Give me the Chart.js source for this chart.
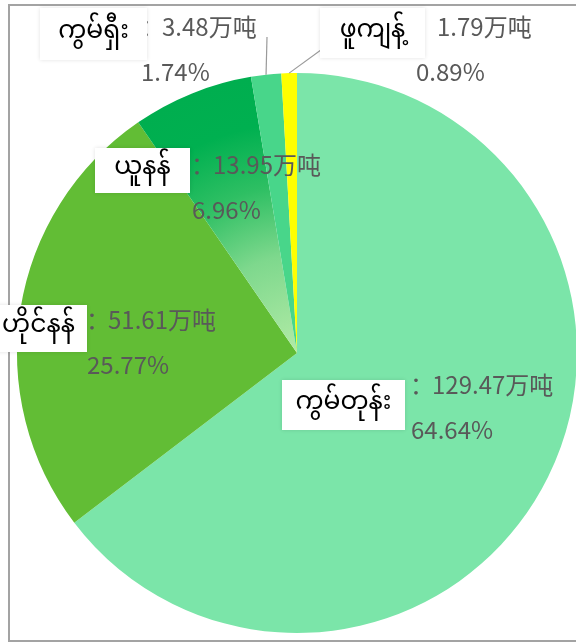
<!DOCTYPE html>
<html>
<head>
<meta charset="utf-8">
<script src="https://cdn.jsdelivr.net/npm/chart.js@4"></script>
<style>
html,body{margin:0;padding:0;background:#fff;overflow:hidden;}
#wrap{position:absolute;left:0;top:0;width:600px;height:643px;}
</style>
</head>
<body>
<div id="wrap"><canvas id="c" width="600" height="643"></canvas></div>
<script>
// Data (clockwise from 12 o'clock)
const categories = ['广东', '海南', '云南', '广西', '福建'];
const burmeseNames = ['ကွမ်တုန်း', 'ဟိုင်နန်', 'ယူနန်', 'ကွမ်ရှီး', 'ဖူကျန့်'];
const values = [129.47, 51.61, 13.95, 3.48, 1.79];
const unit = '万吨';
const colors = ['#7be5a9', '#62bd35', '#00b050', '#48d68a', '#ffff00'];

// Label layout relative to pie centre (in px for radius 280)
const labelLayout = [
  {dx: 135, dy: 32, box: [-150, -27, -5, 45]},
  {dx: -189, dy: -33, box: [-118, -21, -15, 32]},
  {dx: -84, dy: -188, box: [-118, -23, -17, 28]},
  {dx: -135, dy: -326, box: [-122, -15, -19, 33], leader: [-30, -316]},
  {dx: 140, dy: -326, box: [-117, -12, -19, 31], leader: [28, -306]}
];

const total = values.reduce((a, b) => a + b, 0);
const valueFont = '24px "Noto Sans CJK SC", "Noto Sans", sans-serif';
const myFont = '25px "Noto Sans Myanmar", "Padauk", "Myanmar Text", "Noto Sans", sans-serif';

const framePlugin = {
  id: 'frame',
  beforeDraw(chart) {
    const ctx = chart.ctx;
    ctx.save();
    ctx.strokeStyle = '#a3a3a3';
    ctx.lineWidth = 2;
    ctx.strokeRect(9, 5, 700, 636);
    ctx.restore();
  }
};

const labelPlugin = {
  id: 'labels',
  afterDatasetsDraw(chart) {
    const ctx = chart.ctx;
    const meta = chart.getDatasetMeta(0);
    meta.data.forEach((arc, i) => {
      const L = labelLayout[i];
      const s = arc.outerRadius / 280;
      const cx = arc.x, cy = arc.y;
      const vx = cx + L.dx * s, ly = cy + L.dy * s;
      ctx.save();
      if (L.leader) {
        const mid = (arc.startAngle + arc.endAngle) / 2;
        const px = cx + arc.outerRadius * Math.cos(mid);
        const py = cy + arc.outerRadius * Math.sin(mid);
        ctx.strokeStyle = '#9a9a9a';
        ctx.lineWidth = 1.2;
        ctx.beginPath();
        ctx.moveTo(px, py);
        ctx.lineTo(cx + L.leader[0] * s, cy + L.leader[1] * s);
        ctx.stroke();
      }
      ctx.font = valueFont;
      ctx.fillStyle = '#595959';
      ctx.textBaseline = 'middle';
      ctx.textAlign = 'right';
      ctx.fillText('：', vx + 2, ly);
      ctx.textAlign = 'left';
      ctx.fillText(values[i].toFixed(2) + unit, vx, ly);
      ctx.fillText((values[i] / total * 100).toFixed(2) + '%', vx - 21, ly + 45);
      const b = L.box;
      ctx.shadowColor = 'rgba(0,0,0,0.12)';
      ctx.shadowBlur = 4;
      ctx.fillStyle = '#ffffff';
      ctx.fillRect(vx + b[0], ly + b[2], b[1] - b[0], b[3] - b[2]);
      ctx.shadowBlur = 0;
      ctx.shadowColor = 'transparent';
      ctx.fillStyle = '#000000';
      ctx.font = myFont;
      ctx.textAlign = 'center';
      ctx.fillText(burmeseNames[i], vx + (b[0] + b[1]) / 2, ly + (b[2] + b[3]) / 2 + 1);
      ctx.restore();
    });
  }
};

function sliceColor(context) {
  const i = context.dataIndex;
  if (i !== 2) return colors[i];
  const chart = context.chart;
  const area = chart.chartArea;
  if (!area) return colors[i];
  const cx = (area.left + area.right) / 2, cy = (area.top + area.bottom) / 2;
  const g = chart.ctx.createRadialGradient(cx, cy, 0, cx, cy, 280);
  g.addColorStop(0, '#b2eba6');
  g.addColorStop(0.35, '#7ed88d');
  g.addColorStop(0.6, '#2ebf63');
  g.addColorStop(0.82, '#00b050');
  g.addColorStop(1, '#00ae4f');
  return g;
}

new Chart(document.getElementById('c'), {
  type: 'pie',
  data: {
    labels: categories,
    datasets: [{
      data: values,
      backgroundColor: sliceColor,
      borderWidth: 0,
      radius: 280
    }]
  },
  options: {
    responsive: false,
    animation: false,
    layout: {padding: {left: 0, right: 6, top: 63, bottom: 0}},
    plugins: {legend: {display: false}, tooltip: {enabled: false}},
    events: []
  },
  plugins: [framePlugin, labelPlugin]
});
</script>
</body>
</html>
